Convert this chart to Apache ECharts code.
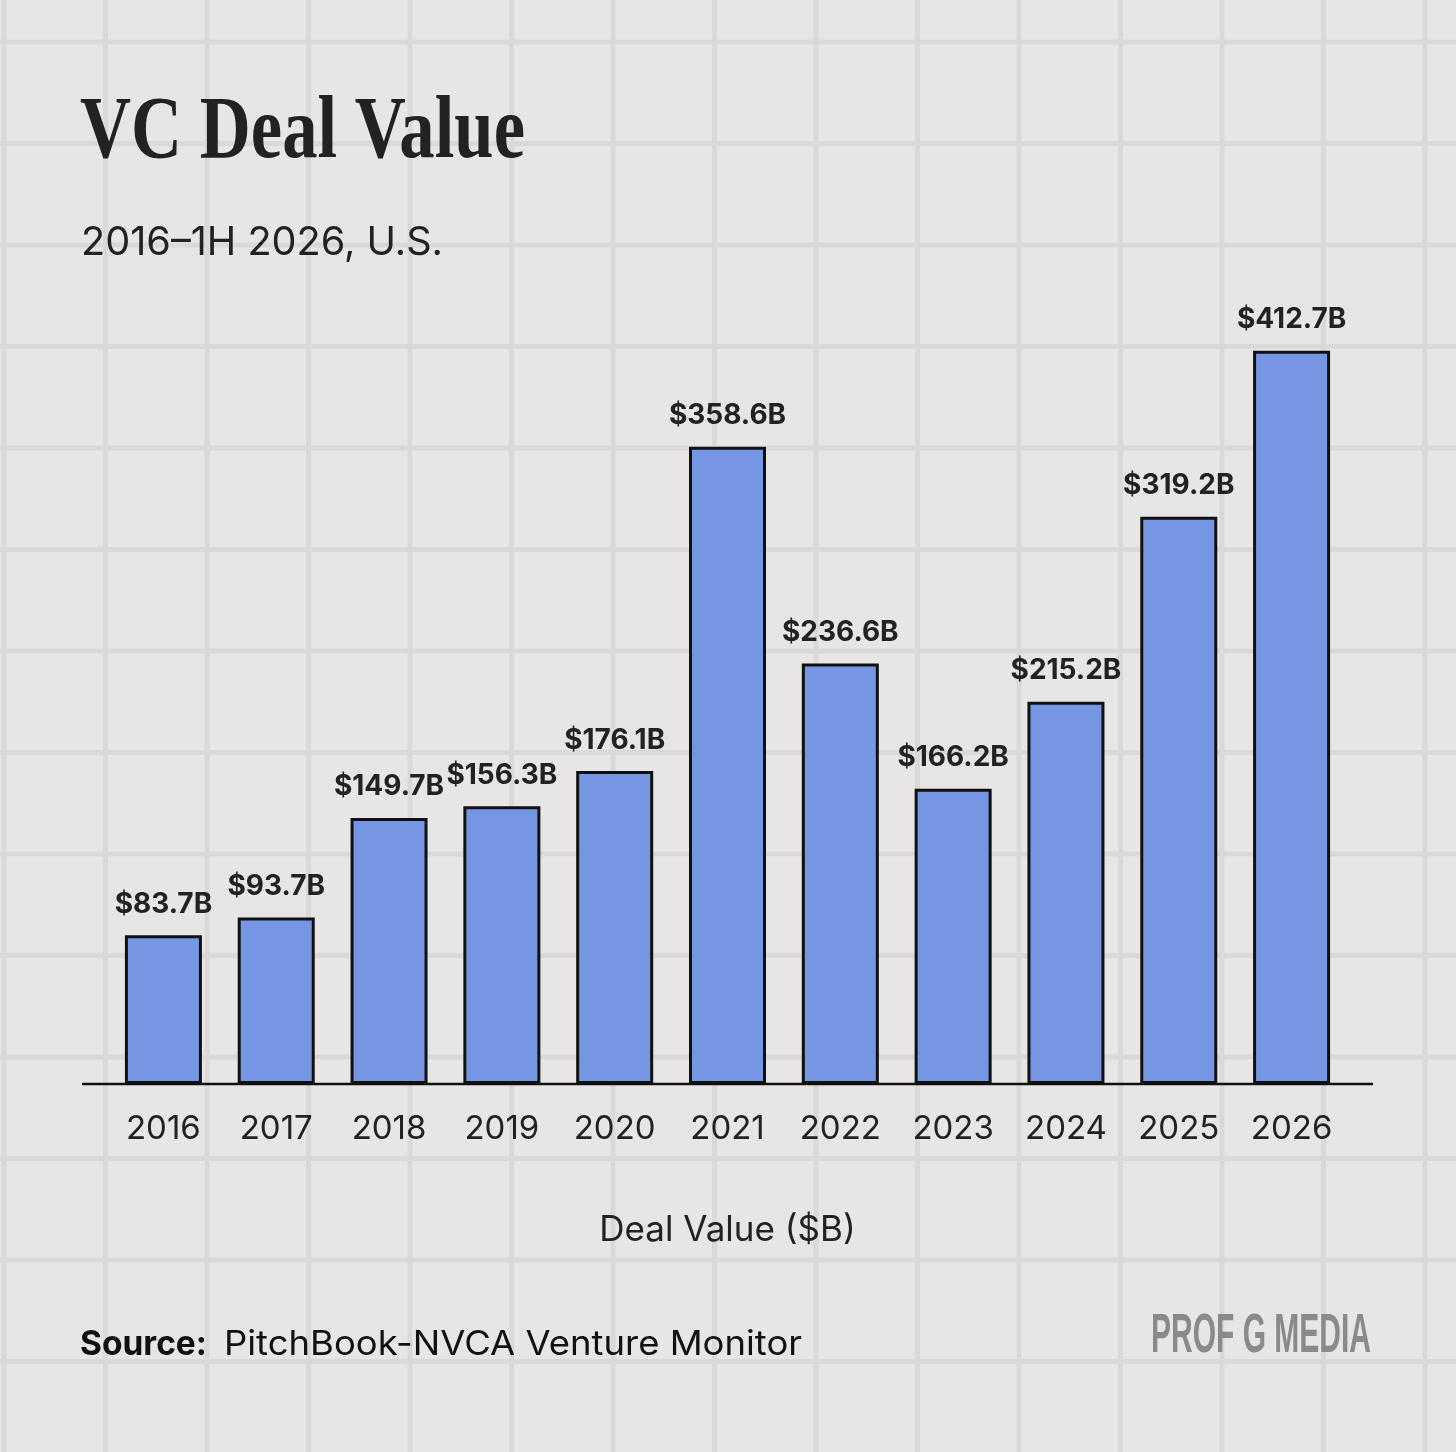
<!DOCTYPE html>
<html>
<head>
<meta charset="utf-8">
<script src="https://cdn.jsdelivr.net/npm/echarts@6/dist/echarts.min.js"></script>
<style>
html,body{margin:0;padding:0;background:#e8e6e5;}
#chart{width:1456px;height:1452px;}
</style>
</head>
<body>
<div id="chart"></div>
<script>
const years = ['2016','2017','2018','2019','2020','2021','2022','2023','2024','2025','2026'];
const dealValue = [83.7, 93.7, 149.7, 156.3, 176.1, 358.6, 236.6, 166.2, 215.2, 319.2, 412.7];
const titleText = 'VC Deal Value';
const subtitleText = '2016–1H 2026, U.S.';
const axisNameText = 'Deal Value ($B)';
const sourceLabel = 'Source:';
const sourceText = 'PitchBook-NVCA Venture Monitor';
const brandText = 'PROF G MEDIA';

// horizontal scale factor so a text run fills a given width (style only)
const measureCtx = document.createElement('canvas').getContext('2d');
function fit(text, font, width) {
  measureCtx.font = font;
  return width / measureCtx.measureText(text).width;
}

const chart = echarts.init(document.getElementById('chart'), null, {renderer:'canvas'});

// paper grid decoration
const paperLines = [];
const step = 101.5;
for (let k = 0; k < 15; k++) {
  const x = 4 + step * k;
  paperLines.push({type:'line', silent:true, z:-10,
    shape:{x1:x, y1:0, x2:x, y2:1452},
    style:{stroke:'#dbd9d8', lineWidth:5}});
  const y = 42 + step * k;
  paperLines.push({type:'line', silent:true, z:-10,
    shape:{x1:0, y1:y, x2:1456, y2:y},
    style:{stroke:'#dbd9d8', lineWidth:5}});
}

const titleFont = 'bold 88px "Liberation Serif"';
const subFont = '40px Inter';
const srcBoldFont = 'bold 34px Inter';
const srcFont = '34px Inter';
const brandFont = 'bold 55px "Liberation Sans"';

const option = {
  backgroundColor: '#e8e6e5',
  animation: false,
  grid: {left:107, right:108, top:288, bottom:368, containLabel:false},
  xAxis: {
    type:'category',
    data: years,
    axisLine:{show:false},
    axisTick:{show:false},
    axisLabel:{color:'#222', fontSize:33, fontFamily:'Inter', margin:29},
    name: axisNameText,
    nameLocation:'middle',
    nameGap:129,
    nameTextStyle:{color:'#222', fontSize:35, fontFamily:'Inter'}
  },
  yAxis: {
    type:'value', min:0, max:448,
    show:false,
    splitLine:{show:false}
  },
  series: [{
    type:'bar',
    data: dealValue,
    barWidth:77,
    itemStyle:{color:'#7597e3', borderColor:'#111', borderWidth:3},
    label:{
      show:true, position:'top', distance:17,
      formatter: p => '$' + p.value.toFixed(1) + 'B',
      color:'#222', fontSize:28, fontWeight:'bold', fontFamily:'Inter'
    },
    z:5
  }],
  graphic: paperLines.concat([
    {type:'line', z:100, silent:true,
     shape:{x1:82, y1:1084, x2:1373, y2:1084},
     style:{stroke:'#111', lineWidth:2.5}},
    {type:'text', x:80, y:134, scaleX:fit(titleText, titleFont, 445), z:100,
     style:{text:titleText, x:0, y:0, fill:'#222', font:titleFont, verticalAlign:'middle', align:'left'}},
    {type:'text', x:81, y:243, scaleX:fit(subtitleText, subFont, 362), z:100,
     style:{text:subtitleText, x:0, y:0, fill:'#222', font:subFont, verticalAlign:'middle', align:'left'}},
    {type:'text', x:80, y:1345, scaleX:fit(sourceLabel, srcBoldFont, 127), z:100,
     style:{text:sourceLabel, x:0, y:0, fill:'#111', font:srcBoldFont, verticalAlign:'middle', align:'left'}},
    {type:'text', x:224, y:1345, scaleX:fit(sourceText, srcFont, 578), z:100,
     style:{text:sourceText, x:0, y:0, fill:'#111', font:srcFont, verticalAlign:'middle', align:'left'}},
    {type:'text', x:1371, y:1337, scaleX:fit(brandText, brandFont, 220), z:100,
     style:{text:brandText, x:0, y:0, fill:'#8c8a89', font:brandFont, verticalAlign:'middle', align:'right'}}
  ])
};
chart.setOption(option);
</script>
</body>
</html>
